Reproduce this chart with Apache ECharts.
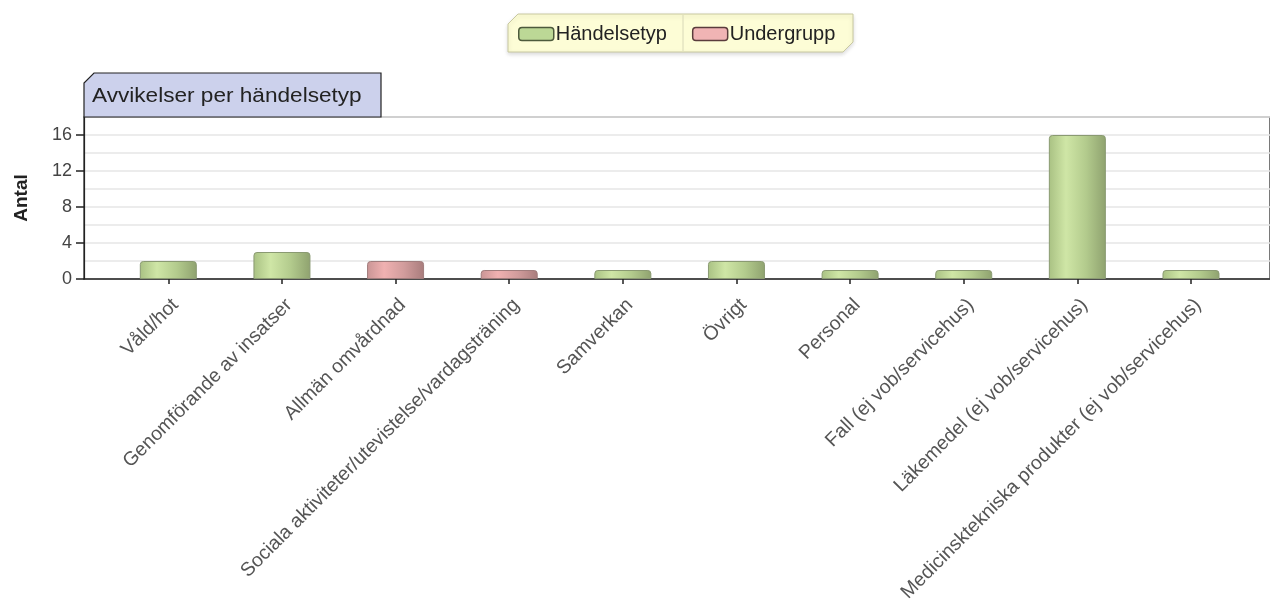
<!DOCTYPE html>
<html>
<head>
<meta charset="utf-8">
<script src="https://cdn.jsdelivr.net/npm/echarts@6/dist/echarts.min.js"></script>
<style>
  html, body { margin: 0; padding: 0; background: #fff; }
  #chart { width: 1270px; height: 608px; }
</style>
</head>
<body>
<div id="chart"></div>
<script>
// Kategorier och värden
const categories = [
    'Våld/hot',
    'Genomförande av insatser',
    'Allmän omvårdnad',
    'Sociala aktiviteter/utevistelse/vardagsträning',
    'Samverkan',
    'Övrigt',
    'Personal',
    'Fall (ej vob/servicehus)',
    'Läkemedel (ej vob/servicehus)',
    'Medicinsktekniska produkter (ej vob/servicehus)'
];
const handelsetyp = [2, 3, null, null, 1, 2, 1, 1, 16, 1];
const undergrupp = [null, null, 2, 1, null, null, null, null, null, null];
const yTicks = [0, 4, 8, 12, 16];

const chart = echarts.init(document.getElementById('chart'));

const greenFill = new echarts.graphic.LinearGradient(0, 0, 1, 0, [
    {offset: 0, color: '#a9c183'},
    {offset: 0.3, color: '#cfe6a6'},
    {offset: 0.65, color: '#b3cb8d'},
    {offset: 1, color: '#8fa26f'}
]);
const pinkFill = new echarts.graphic.LinearGradient(0, 0, 1, 0, [
    {offset: 0, color: '#c99595'},
    {offset: 0.3, color: '#f0b1b1'},
    {offset: 0.65, color: '#d19c9c'},
    {offset: 1, color: '#a87c7c'}
]);

const font = 'Liberation Sans, Arial, sans-serif';
const gridTop = 117, gridBottom = 608 - 279;

const option = {
    animation: false,
    textStyle: {fontFamily: font},
    legend: {
        top: 24,
        left: 518,
        padding: 0,
        itemGap: 25,
        itemWidth: 35,
        itemHeight: 13,
        icon: 'roundRect',
        textStyle: {fontSize: 20, color: '#222', padding: [0, 0, 0, -3]},
        data: [
            {name: 'Händelsetyp', itemStyle: {color: '#bcd896', borderColor: '#4d5a3c', borderWidth: 1.5}},
            {name: 'Undergrupp', itemStyle: {color: '#f0b4b4', borderColor: '#5a3c3c', borderWidth: 1.5}}
        ]
    },
    graphic: [
        // legend box
        {
            type: 'polygon', z: -1,
            shape: {points: [[518, 14], [853, 14], [853, 42], [843, 52], [508, 52], [508, 24]]},
            style: {fill: '#fdfdd6', stroke: '#c8c8a0', lineWidth: 1, shadowBlur: 4, shadowColor: 'rgba(0,0,0,0.15)', shadowOffsetY: 2}
        },
        {type: 'line', shape: {x1: 683, y1: 15, x2: 683, y2: 51}, style: {stroke: '#d8d8b8', lineWidth: 1}},
        // title tab
        {
            type: 'polygon', z: 10,
            shape: {points: [[94, 73], [381, 73], [381, 117], [84, 117], [84, 83]]},
            style: {fill: '#ccd1ec', stroke: '#222', lineWidth: 1.2}
        },
        {
            type: 'text', z: 11, x: 92, y: 86, scaleX: 1.13,
            style: {text: 'Avvikelser per händelsetyp', fontSize: 20, fill: '#222', fontFamily: font}
        }
    ],
    grid: [
        {left: 84, right: 0, top: gridTop, bottom: gridBottom, show: true, borderColor: '#222', borderWidth: 1.2,
         backgroundColor: '#fff', outerBoundsMode: 'none', containLabel: false},
        {left: 111.5, right: 22.2, top: gridTop, bottom: gridBottom, outerBoundsMode: 'none', containLabel: false}
    ],
    xAxis: [
        {
            gridIndex: 0, type: 'category', data: [''],
            axisLine: {lineStyle: {color: '#222', width: 1.5}},
            axisTick: {show: false}, axisLabel: {show: false}, splitLine: {show: false}
        },
        {
            gridIndex: 1, type: 'category', data: categories,
            axisLine: {show: false},
            axisTick: {show: true, alignWithLabel: true, length: 5, lineStyle: {color: '#222', width: 1.5}},
            axisLabel: {rotate: 45, fontSize: 19.5, color: '#555', margin: 16, interval: 0, verticalAlign: 'top'}
        }
    ],
    yAxis: [
        {
            // gridlines every 2
            gridIndex: 0, type: 'value', min: 0, max: 18, interval: 2,
            axisLine: {show: true, lineStyle: {color: '#222', width: 1.2}},
            axisTick: {show: false},
            axisLabel: {show: false},
            splitLine: {lineStyle: {color: '#e6e6e6', width: 1.5}}
        },
        {
            gridIndex: 1, type: 'value', min: 0, max: 18, show: false
        },
        {
            // labels and ticks at 0, 4, 8, 12, 16
            gridIndex: 0, type: 'value', min: 0, max: 18, position: 'left', z: 20,
            name: 'Antal', nameLocation: 'middle', nameGap: 53, nameRotate: 90,
            nameTextStyle: {fontSize: 19, fontWeight: 'bold', color: '#222'},
            axisLine: {show: false},
            axisTick: {show: true, inside: false, length: 8, customValues: yTicks, lineStyle: {color: '#222', width: 1.5}},
            axisLabel: {fontSize: 18, color: '#444', margin: 12, customValues: yTicks},
            splitLine: {show: false}
        }
    ],
    series: [
        {
            name: 'Händelsetyp', type: 'bar', xAxisIndex: 1, yAxisIndex: 1, stack: 'a',
            barWidth: 57, data: handelsetyp,
            itemStyle: {color: greenFill, borderColor: '#8a9a72', borderWidth: 1, borderRadius: [3, 3, 0, 0]}
        },
        {
            name: 'Undergrupp', type: 'bar', xAxisIndex: 1, yAxisIndex: 1, stack: 'a',
            barWidth: 57, data: undergrupp,
            itemStyle: {color: pinkFill, borderColor: '#a07c7c', borderWidth: 1, borderRadius: [3, 3, 0, 0]}
        }
    ]
};

chart.setOption(option);
</script>
</body>
</html>
